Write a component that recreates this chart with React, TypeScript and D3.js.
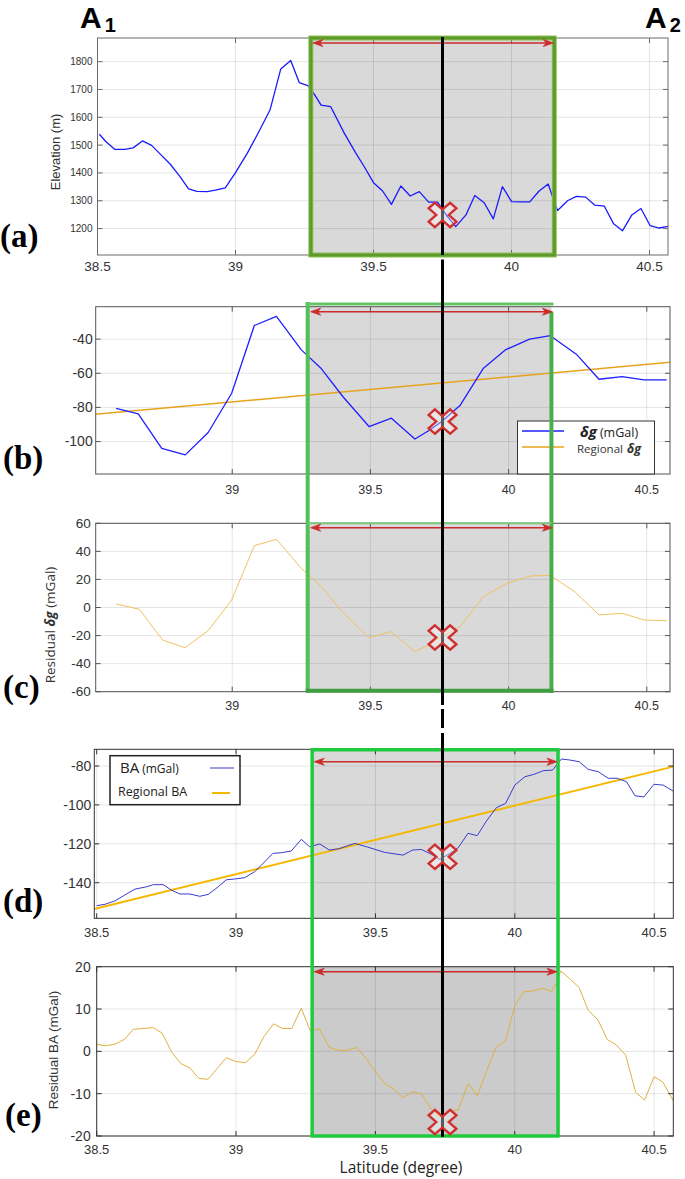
import React from "react";
import * as d3 from "d3";

// ---------------- DATA ----------------
const latTicks = [38.5, 39, 39.5, 40, 40.5];
const elevTicks = [1200, 1300, 1400, 1500, 1600, 1700, 1800];
const dgTicks = [-100, -80, -60, -40];
const resDgTicks = [-60, -40, -20, 0, 20, 40, 60];
const baTicks = [-140, -120, -100, -80];
const resBaTicks = [-20, -10, 0, 10, 20];

// (a) elevation
const elevLat = [38.507, 38.53, 38.562, 38.599, 38.629, 38.663, 38.696, 38.732, 38.763, 38.799, 38.83, 38.86, 38.897, 38.927, 38.963, 39.0, 39.043, 39.085, 39.125, 39.164, 39.2, 39.231, 39.262, 39.275, 39.29, 39.31, 39.345, 39.394, 39.436, 39.466, 39.5, 39.533, 39.565, 39.599, 39.633, 39.666, 39.7, 39.732, 39.768, 39.798, 39.835, 39.867, 39.901, 39.934, 39.967, 40.0, 40.034, 40.066, 40.1, 40.133, 40.152, 40.167, 40.203, 40.235, 40.269, 40.302, 40.336, 40.37, 40.402, 40.436, 40.469, 40.502, 40.535, 40.568];
const elevVal = [1539, 1513, 1485, 1485, 1490, 1515, 1499, 1463, 1432, 1387, 1343, 1334, 1333, 1338, 1346, 1401, 1471, 1549, 1626, 1774, 1804, 1725, 1714, 1698, 1676, 1644, 1638, 1543, 1471, 1423, 1365, 1335, 1287, 1353, 1317, 1333, 1295, 1295, 1243, 1207, 1249, 1319, 1293, 1235, 1351, 1297, 1296, 1296, 1335, 1360, 1305, 1265, 1300, 1316, 1313, 1284, 1281, 1217, 1192, 1249, 1272, 1211, 1202, 1208];

// (b) delta g and regional
const dgLat = [38.58, 38.66, 38.745, 38.83, 38.913, 38.998, 39.08, 39.16, 39.25, 39.323, 39.4, 39.495, 39.576, 39.661, 39.715, 39.758, 39.824, 39.909, 39.988, 40.076, 40.151, 40.245, 40.327, 40.411, 40.49, 40.572];
const dgVal = [-80.5, -83.8, -104, -107.8, -94.7, -71.7, -32, -26.7, -46.3, -57.4, -73.6, -91.2, -86.3, -98.5, -93.2, -88.3, -78.9, -57, -46.3, -40, -38, -48.8, -63.5, -61.9, -63.9, -63.9];
const dgRegLat = [38.505, 40.584];
const dgRegVal = [-84, -53.6];

// (c) residual delta g
const resDgLat = [38.58, 38.664, 38.748, 38.829, 38.913, 38.998, 39.08, 39.16, 39.25, 39.323, 39.4, 39.495, 39.574, 39.661, 39.715, 39.758, 39.824, 39.909, 39.994, 40.079, 40.151, 40.242, 40.327, 40.412, 40.49, 40.572];
const resDgVal = [2.5, -1.3, -23.2, -28.6, -16.5, 5.3, 44.1, 48.6, 27.9, 14.8, -3.5, -21.5, -17.2, -31.5, -26.3, -20.8, -13.7, 7.7, 17.2, 22.5, 22.9, 10.8, -5.3, -4.2, -8.9, -9.4];

// (d) Bouguer anomaly and regional
const baLat = [38.5, 38.53, 38.566, 38.601, 38.637, 38.679, 38.703, 38.739, 38.768, 38.798, 38.834, 38.87, 38.9, 38.936, 38.965, 38.995, 39.031, 39.067, 39.103, 39.132, 39.162, 39.198, 39.234, 39.264, 39.3, 39.335, 39.37, 39.4, 39.426, 39.468, 39.533, 39.599, 39.633, 39.665, 39.701, 39.731, 39.767, 39.797, 39.832, 39.865, 39.898, 39.934, 39.967, 40.0, 40.036, 40.068, 40.102, 40.135, 40.15, 40.167, 40.197, 40.231, 40.263, 40.299, 40.335, 40.367, 40.401, 40.431, 40.463, 40.499, 40.532, 40.568];
const baVal = [-151.8, -151.1, -149.3, -146.3, -143.3, -142.1, -141, -141, -143.8, -145.8, -145.8, -147, -146, -142.1, -138.5, -138.1, -137.4, -134.3, -129.2, -124.9, -124.6, -123.7, -117.7, -121.5, -120.1, -123.2, -122.5, -121, -119.8, -121.5, -124.4, -125.8, -123.2, -122.9, -125.4, -128, -124.9, -122, -114.6, -115.8, -108.3, -101.4, -99.2, -89.8, -85.5, -84.3, -82.4, -82.1, -79.5, -76.4, -76.9, -77.8, -81.7, -82.9, -86.3, -86.3, -88.1, -95.3, -95.9, -89.4, -89.8, -92.9];
const baRegLat = [38.491, 40.568];
const baRegVal = [-153.5, -80.3];

// (e) residual BA
const resBaLat = [38.5, 38.53, 38.566, 38.601, 38.631, 38.667, 38.703, 38.735, 38.768, 38.802, 38.834, 38.867, 38.9, 38.933, 38.965, 38.999, 39.033, 39.067, 39.1, 39.135, 39.166, 39.2, 39.234, 39.266, 39.3, 39.335, 39.366, 39.396, 39.432, 39.468, 39.498, 39.533, 39.566, 39.599, 39.633, 39.665, 39.701, 39.731, 39.767, 39.797, 39.833, 39.866, 39.898, 39.934, 39.967, 40.0, 40.033, 40.068, 40.102, 40.132, 40.15, 40.165, 40.2, 40.231, 40.263, 40.299, 40.332, 40.365, 40.398, 40.434, 40.466, 40.5, 40.532, 40.568];
const resBaVal = [1.7, 1.3, 1.7, 2.9, 5.2, 5.4, 5.6, 4.3, -0.1, -2.9, -3.9, -6.4, -6.6, -4, -1.5, -2.4, -2.7, -0.7, 3.5, 6.5, 5.4, 5.4, 10.2, 4.9, 5.3, 0.9, 0.3, 0.2, 0.9, -1.8, -4.6, -7.6, -8.9, -11, -9.5, -10.1, -13.7, -15.4, -13.9, -13.9, -7.6, -10.5, -4.8, 1.1, 2.4, 10.8, 14.1, 14.3, 14.9, 14.1, 16.1, 19, 17, 15.1, 9.8, 7.4, 2.8, 1.5, -0.9, -9.7, -11.5, -6, -7.3, -11.6];

// annotation data
const anomalyLat = 39.75;
const windowLat = [39.273, 40.155];
const markerVal = { a: 1249, b: -88.3, c: -21.4, d: -126.7, e: -16.7 };

// ---------------- LAYOUT ----------------
const W = 685;
const H = 1179;
const FONT = "'Liberation Sans', Arial, Helvetica, sans-serif";
const FONT2 = "'Open Sans', 'Noto Sans', sans-serif";

type Series = { lat: number[]; val: number[]; color: string; width: number };
type Panel = {
  key: string;
  left: number; right: number; top: number; bottom: number;
  xd: [number, number]; yd: [number, number];
  yTicks: number[]; yFont: number; xFont: number; yGap: number; xDy: number;
  series: Series[];
  frame: string;
};

const panels: Panel[] = [
  {
    key: "a", left: 97.5, right: 668, top: 38, bottom: 255,
    xd: [38.5, 40.567], yd: [1105, 1885], yTicks: elevTicks, yFont: 10, xFont: 13.5, yGap: 5, xDy: 16,
    series: [{ lat: elevLat, val: elevVal, color: "#1a1aff", width: 1.3 }], frame: "#6a6a6a",
  },
  {
    key: "b", left: 95.7, right: 670, top: 306.7, bottom: 474,
    xd: [38.506, 40.584], yd: [-119, -21], yTicks: dgTicks, yFont: 14, xFont: 12.5, yGap: 3, xDy: 20,
    series: [
      { lat: dgRegLat, val: dgRegVal, color: "#e8a31c", width: 1.5 },
      { lat: dgLat, val: dgVal, color: "#1f1fff", width: 1.3 },
    ], frame: "#555",
  },
  {
    key: "c", left: 95.7, right: 670, top: 523.3, bottom: 691.7,
    xd: [38.506, 40.584], yd: [-60, 60], yTicks: resDgTicks, yFont: 13.5, xFont: 12.5, yGap: 5, xDy: 18,
    series: [{ lat: resDgLat, val: resDgVal, color: "#f0c060", width: 1 }], frame: "#555",
  },
  {
    key: "d", left: 94.3, right: 673.3, top: 749.3, bottom: 918.3,
    xd: [38.4914, 40.5685], yd: [-158.3, -71.4], yTicks: baTicks, yFont: 14, xFont: 13, yGap: 3, xDy: 19,
    series: [
      { lat: baRegLat, val: baRegVal, color: "#f5b800", width: 2 },
      { lat: baLat, val: baVal, color: "#3a3ad0", width: 1 },
    ], frame: "#333",
  },
  {
    key: "e", left: 96.7, right: 673.3, top: 966.7, bottom: 1136,
    xd: [38.5, 40.569], yd: [-20, 20], yTicks: resBaTicks, yFont: 14, xFont: 13, yGap: 6, xDy: 18,
    series: [{ lat: resBaLat, val: resBaVal, color: "#e0b040", width: 1 }], frame: "#333",
  },
];

const boxStyle: Record<string, { fill: string }> = {
  a: { fill: "#d9d9d9" }, b: { fill: "#d9d9d9" }, c: { fill: "#d9d9d9" }, d: { fill: "#d9d9d9" }, e: { fill: "#cbcbcb" },
};

const panelLabels = [
  { t: "(a)", x: 0, y: 247 },
  { t: "(b)", x: 3, y: 469 },
  { t: "(c)", x: 3, y: 698 },
  { t: "(d)", x: 3, y: 912 },
  { t: "(e)", x: 5, y: 1126 },
];

function xPath(cx: number, cy: number) {
  const L = 14.5, w = 4.2;
  const pts = [[w, L], [w, w], [L, w], [L, -w], [w, -w], [w, -L], [-w, -L], [-w, -w], [-L, -w], [-L, w], [-w, w], [-w, L]];
  const c = Math.SQRT1_2;
  return "M" + pts.map(([x, y]) => `${(cx + (x - y) * c * 1.05).toFixed(2)},${(cy + (x + y) * c * 0.92).toFixed(2)}`).join("L") + "Z";
}

function PanelView({ p }: { p: Panel }) {
  const x = d3.scaleLinear().domain(p.xd).range([p.left, p.right]);
  const y = d3.scaleLinear().domain(p.yd).range([p.bottom, p.top]);
  const xt = latTicks.filter((t) => t >= p.xd[0] - 1e-9 && t <= p.xd[1]);
  const clipId = "clip-" + p.key;
  const bx0 = x(windowLat[0]);
  const bx1 = x(windowLat[1]);
  const tl = 5;
  return (
    <g>
      <defs>
        <clipPath id={clipId}>
          <rect x={p.left} y={p.top} width={p.right - p.left} height={p.bottom - p.top} />
        </clipPath>
      </defs>
      <rect x={p.left} y={p.top} width={p.right - p.left} height={p.bottom - p.top} fill="#fff" />
      <rect x={bx0} y={p.top} width={bx1 - bx0} height={p.bottom - p.top} fill={boxStyle[p.key].fill} />
      {xt.map((t) => (
        <line key={"gx" + t} x1={x(t)} x2={x(t)} y1={p.top} y2={p.bottom} stroke="#000" strokeOpacity={0.1} strokeWidth={1} />
      ))}
      {p.yTicks.map((t) => (
        <line key={"gy" + t} x1={p.left} x2={p.right} y1={y(t)} y2={y(t)} stroke="#000" strokeOpacity={0.1} strokeWidth={1} />
      ))}
      <g clipPath={`url(#${clipId})`}>
        {p.series.map((s, i) => {
          const pts = s.lat.map((la, j) => [la, s.val[j]] as [number, number]);
          const line = d3.line<[number, number]>().x((d) => x(d[0])).y((d) => y(d[1]));
          return <path key={i} d={line(pts) || ""} fill="none" stroke={s.color} strokeWidth={s.width} strokeLinejoin="round" />;
        })}
      </g>
      <rect x={p.left} y={p.top} width={p.right - p.left} height={p.bottom - p.top} fill="none" stroke={p.frame} strokeWidth={1} />
      {xt.map((t) => (
        <g key={"tx" + t}>
          <line x1={x(t)} x2={x(t)} y1={p.bottom} y2={p.bottom - tl} stroke={p.frame} />
          <line x1={x(t)} x2={x(t)} y1={p.top} y2={p.top + tl} stroke={p.frame} />
          <text x={x(t)} y={p.bottom + p.xDy} textAnchor="middle" fontSize={p.xFont} fontFamily={FONT} fill="#333">
            {String(t)}
          </text>
        </g>
      ))}
      {p.yTicks.map((t) => (
        <g key={"ty" + t}>
          <line x1={p.left} x2={p.left + tl} y1={y(t)} y2={y(t)} stroke={p.frame} />
          <line x1={p.right} x2={p.right - tl} y1={y(t)} y2={y(t)} stroke={p.frame} />
          <text x={p.left - p.yGap} y={y(t)} dy="0.35em" textAnchor="end" fontSize={p.yFont} fontFamily={FONT} fill="#333">
            {String(t)}
          </text>
        </g>
      ))}
    </g>
  );
}

function Arrow({ x0, x1, yy }: { x0: number; x1: number; yy: number }) {
  const c = "#cc2b2b";
  return (
    <g>
      <line x1={x0 + 6} x2={x1 - 6} y1={yy} y2={yy} stroke={c} strokeWidth={1.6} />
      <path d={`M${x0},${yy}L${x0 + 10},${yy - 3.5}L${x0 + 7},${yy}L${x0 + 10},${yy + 3.5}Z`} fill={c} stroke={c} strokeWidth={0.8} />
      <path d={`M${x1},${yy}L${x1 - 10},${yy - 3.5}L${x1 - 7},${yy}L${x1 - 10},${yy + 3.5}Z`} fill={c} stroke={c} strokeWidth={0.8} />
    </g>
  );
}

export default function App() {
  const pa = panels[0], pb = panels[1], pc = panels[2], pd = panels[3], pe = panels[4];
  const sx = (p: Panel) => d3.scaleLinear().domain(p.xd).range([p.left, p.right]);
  const sy = (p: Panel) => d3.scaleLinear().domain(p.yd).range([p.bottom, p.top]);
  const xa = sx(pa), xb = sx(pb), xd = sx(pd);
  const lineX = xa(anomalyLat);

  const aL = xa(windowLat[0]), aR = xa(windowLat[1]);
  const bL = xb(windowLat[0]), bR = xb(windowLat[1]);
  const dL = xd(windowLat[0]), dR = xd(windowLat[1]);

  const markers = [
    { p: pa, v: markerVal.a },
    { p: pb, v: markerVal.b },
    { p: pc, v: markerVal.c },
    { p: pd, v: markerVal.d },
    { p: pe, v: markerVal.e },
  ];

  return (
    <div style={{ position: "absolute", left: 0, top: 0, width: W, height: H, background: "#fff" }}>
      <svg width={W} height={H} viewBox={`0 0 ${W} ${H}`} style={{ display: "block" }}>
        <rect x={0} y={0} width={W} height={H} fill="#fff" />
        {panels.map((p) => (
          <PanelView key={p.key} p={p} />
        ))}

        {/* legend b */}
        <g>
          <rect x={517.5} y={421} width={137} height={53} fill="#fff" stroke="#333" strokeWidth={1} />
          <line x1={522} x2={564} y1={431} y2={431} stroke="#1f1fff" strokeWidth={1.3} />
          <line x1={522} x2={564} y1={447} y2={447} stroke="#e8a31c" strokeWidth={1.5} />
          <text x={580} y={436.5} fontFamily={FONT2} fill="#222">
            <tspan fontSize={15} fontWeight="bold" fontStyle="italic">δg</tspan>
            <tspan fontSize={12.5} dx={3}>(mGal)</tspan>
          </text>
          <text x={577} y={452.5} fontFamily={FONT2} fill="#333">
            <tspan fontSize={11.5}>Regional</tspan>
            <tspan fontSize={12.5} dx={4} fontWeight="bold" fontStyle="italic">δg</tspan>
          </text>
        </g>

        {/* legend d */}
        <g>
          <rect x={110} y={755.7} width={130} height={49} fill="#fff" stroke="#222" strokeWidth={1.5} />
          <line x1={210} x2={234} y1={768} y2={768} stroke="#3a3ad0" strokeWidth={1} />
          <line x1={212} x2={230} y1={793} y2={793} stroke="#f5b800" strokeWidth={2} />
          <text x={120} y={773} fontFamily={FONT2} fill="#222">
            <tspan fontSize={15}>BA</tspan>
            <tspan fontSize={12} dx={3}>(mGal)</tspan>
          </text>
          <text x={118} y={796} fontFamily={FONT2} fontSize={12.5} fill="#222">Regional BA</text>
        </g>

        {/* green box a */}
        <rect x={aL} y={pa.top} width={aR - aL} height={pa.bottom - pa.top} fill="none" stroke="#8cc152" strokeWidth={5} />
        <rect x={aL} y={pa.top} width={aR - aL} height={pa.bottom - pa.top} fill="none" stroke="#5e9a2c" strokeWidth={3} />

        {/* green boxes b/c */}
        <g stroke="#55bf55" fill="none">
          <line x1={bL} x2={bL} y1={302} y2={pc.bottom + 1} strokeWidth={4} />
          <line x1={bR} x2={bR} y1={312} y2={pc.bottom + 1} strokeWidth={4} stroke="#4aae4a" />
          <line x1={bL - 2} x2={bR + 2} y1={304} y2={304} strokeWidth={3} stroke="#66c466" />
          <line x1={bL} x2={bR} y1={pc.top} y2={pc.top} strokeWidth={2} stroke="#7cc87c" />
          <line x1={bL - 2} x2={bR + 2} y1={pc.bottom - 1} y2={pc.bottom - 1} strokeWidth={4} stroke="#3f9e3f" />
        </g>

        {/* green boxes d/e */}
        <g stroke="#1fca3e" fill="none" strokeWidth={3.5}>
          <line x1={dL} x2={dL} y1={pd.top} y2={pe.bottom + 1} />
          <line x1={dR} x2={dR} y1={pd.top} y2={pe.bottom + 1} />
          <line x1={dL - 1.5} x2={dR + 1.5} y1={pd.top + 0.5} y2={pd.top + 0.5} />
          <line x1={dL - 1.5} x2={dR + 1.5} y1={pe.bottom} y2={pe.bottom} />
        </g>

        {/* arrows */}
        <Arrow x0={aL + 2} x1={aR - 1} yy={43} />
        <Arrow x0={bL + 3} x1={bR + 1} yy={311.7} />
        <Arrow x0={bL + 3} x1={bR + 1} yy={527.7} />
        <Arrow x0={dL + 2} x1={dR - 1} yy={761.7} />
        <Arrow x0={dL + 2} x1={dR - 1} yy={971.7} />

        {/* black vertical line with small gaps */}
        <g stroke="#000" strokeWidth={3}>
          <line x1={lineX} x2={lineX} y1={37} y2={255} />
          <line x1={lineX} x2={lineX} y1={259.5} y2={705} />
          <line x1={lineX} x2={lineX} y1={709} y2={728} />
          <line x1={lineX} x2={lineX} y1={733} y2={1137} />
        </g>

        {/* markers */}
        {markers.map((m, i) => (
          <path key={i} d={xPath(lineX, sy(m.p)(m.v))} fill="#fff" fillOpacity={0.35} stroke="#d03030" strokeWidth={2.4} strokeLinejoin="miter" />
        ))}

        {/* y labels */}
        <text transform="translate(59.5,152) rotate(-90)" textAnchor="middle" fontFamily={FONT} fontSize={13} fill="#333">
          Elevation (m)
        </text>
        <text transform="translate(55,625) rotate(-90)" textAnchor="middle" fontFamily={FONT2} fontSize={13.5} fill="#333">
          <tspan>Residual </tspan>
          <tspan fontWeight="bold" fontStyle="italic">δg</tspan>
          <tspan> (mGal)</tspan>
        </text>
        <text transform="translate(58,1050) rotate(-90)" textAnchor="middle" fontFamily={FONT} fontSize={13.5} fill="#333">
          Residual BA (mGal)
        </text>

        {/* x label */}
        <text x={401} y={1173} textAnchor="middle" fontFamily={FONT2} fontSize={15.5} fill="#222">
          Latitude (degree)
        </text>

        {/* panel labels */}
        {panelLabels.map((l) => (
          <text key={l.t} x={l.x} y={l.y} fontFamily="'Liberation Serif', 'Times New Roman', serif" fontWeight="bold" fontSize={33} fill="#000">
            {l.t}
          </text>
        ))}

        {/* A1 / A2 */}
        <text x={80} y={27.5} fontFamily={FONT} fontWeight="bold" fontSize={30} fill="#000">
          A<tspan fontSize={20} dx={3} dy={4}>1</tspan>
        </text>
        <text x={645} y={27.5} fontFamily={FONT} fontWeight="bold" fontSize={30} fill="#000">
          A<tspan fontSize={20} dx={3} dy={4}>2</tspan>
        </text>
      </svg>
    </div>
  );
}
